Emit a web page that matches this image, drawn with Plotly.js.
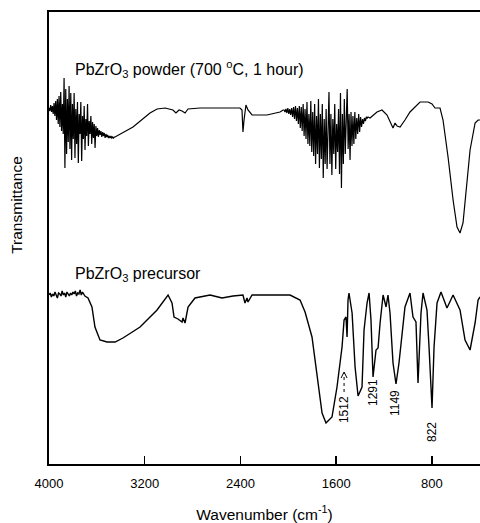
<!DOCTYPE html>
<html>
<head>
<meta charset="utf-8">
<script src="https://cdn.plot.ly/plotly-3.0.1.min.js"></script>
<style>html,body{margin:0;padding:0;background:#fff;}#chart{width:480px;height:523px;}</style>
</head>
<body>
<div id="chart"></div>
<script>
// Wavenumber (cm-1) and transmittance (arbitrary units)
const powderWavenumber = [
4000,3993,3986,3979,3972,3965,3958,3951,3944,3937,3930,3923,3916,3909,3902,3895,3888,3881,3874,3867,
3860,3853,3846,3839,3832,3825,3818,3811,3804,3797,3790,3783,3776,3769,3762,3755,3748,3741,3734,3727,
3720,3713,3706,3699,3692,3685,3678,3671,3664,3657,3650,3643,3636,3629,3622,3615,3608,3601,3594,3587,
3580,3573,3566,3559,3552,3545,3538,3531,3524,3517,3510,3503,3496,3489,3482,3475,3468,3461,3454,3448,
3298,3156,3097,3030,2964,2939,2913,2888,2863,2838,2738,2571,2404,2387,2379,2370,2354,2337,2303,2178,
2069,2044,
2036,2028,2020,2012,2004,1996,1988,1980,1972,1964,1956,1948,1940,1932,1924,1916,1908,1900,1892,1884,
1876,1868,1860,1852,1844,1836,1828,1820,1812,1804,1796,1788,1780,1772,1764,1756,1748,1740,1732,1724,
1716,1708,1700,1692,1684,1676,1668,1660,1652,1644,1636,1628,1620,1612,1604,1596,1588,1580,1572,1564,
1556,1548,1540,1532,1524,1516,1508,1500,1492,1484,1476,1468,1460,1452,1444,1436,1428,1420,1412,1404,
1396,1388,1380,1372,1364,1356,1348,1340,1334,
1317,1259,1217,1175,1125,1108,1091,1066,1025,983,899,832,799,774,732,707,665,623,590,565,
540,506,481,439,414,398];
const powderTransmittance = [
356,353,359,352,358,350,361,348,363,344,365,340,368,337,372,333,360,330,386,296,
375,310,365,322,378,315,371,304,360,325,371,306,355,320,362,301,350,330,362,303,
348,325,358,314,345,328,360,318,343,330,348,320,342,326,340,316,338,328,336,327,
334,329,333,327,332,328,331,326,330,327,329,326,328,326,328,326,327,326,327,327,
337,351,355,356,354,351,354,353,351,355,356,356,356,354,332,344,359,354,349,349,
352,354,
354,352,355,351,356,350,355,349,356,347,357,345,358,343,356,340,358,336,357,333,
360,328,355,325,362,320,350,318,363,312,352,308,360,300,348,310,365,296,350,305,
360,286,345,300,355,295,340,372,300,350,289,345,310,360,295,340,312,355,290,371,
276,350,300,365,310,355,375,315,350,304,352,318,348,320,352,325,346,330,350,332,
347,337,345,340,346,343,347,346,347,
346,352,354,349,336,341,338,337,344,352,362,362,360,356,356,344,307,264,237,231,
241,281,314,341,344,344];

const precursorWavenumber = [
4000,3990,3980,3970,3960,3950,3940,3930,3920,3910,3900,3890,3880,3870,3860,3850,3840,3830,3820,3810,
3800,3790,3780,3770,3760,3750,3740,3730,3720,3710,3700,
3674,3641,3616,3574,3515,3448,3382,3239,3097,3005,2972,2955,2922,2888,2880,2863,2838,2780,2654,
2554,2462,2379,2362,2345,2337,2303,2002,1986,1902,1860,1802,1760,1718,1685,1635,1593,1551,1534,1518,
1509,1501,1493,1467,1442,1417,1384,1367,1342,1325,1309,1292,1267,1250,1233,1208,1183,1167,1150,1125,
1100,1075,1025,983,958,933,916,891,874,841,824,799,782,757,724,674,623,565,523,481,
439,414,398];
const precursorTransmittance = [
169,171,167,170,168,172,169,166,171,170,168,173,169,171,167,172,170,168,171,169,
172,170,173,168,171,170,174,169,172,170,168,
166,157,137,124,122,122,126,137,154,169,161,147,145,142,146,141,157,166,169,
166,168,169,161,166,162,169,169,169,164,152,127,87,51,41,47,77,117,144,147,
127,164,171,151,97,68,77,134,161,171,144,87,114,116,141,169,157,169,151,101,
80,101,157,171,147,142,81,151,171,154,117,56,117,161,172,156,169,154,124,114,
141,164,167];

const tickValues = [4000, 3200, 2400, 1600, 800];
const tickLabels = ["4000", "3200", "2400", "1600", "800"];

const FONT = "Liberation Sans, Arial, sans-serif";

const traces = [
  {x: powderWavenumber, y: powderTransmittance, type: "scatter", mode: "lines",
   line: {color: "#000", width: 1.2}, hoverinfo: "skip"},
  {x: precursorWavenumber, y: precursorTransmittance, type: "scatter", mode: "lines",
   line: {color: "#000", width: 1.4}, hoverinfo: "skip"}
];

const layout = {
  width: 480, height: 523,
  margin: {l: 49, r: 0, t: 12, b: 59},
  paper_bgcolor: "#fff", plot_bgcolor: "#fff",
  showlegend: false,
  font: {family: FONT, color: "#000"},
  xaxis: {
    range: [4000, 398],
    tickmode: "array", tickvals: tickValues, ticktext: tickLabels,
    ticks: "inside", ticklen: 8, tickwidth: 1.5, tickcolor: "#000",
    showline: true, linewidth: 2, linecolor: "#000", mirror: true,
    showgrid: false, zeroline: false,
    tickfont: {family: FONT, size: 13, color: "#000"},
    ticklabelstandoff: 6,
    title: {text: "Wavenumber (cm<sup>-1</sup>)", font: {family: FONT, size: 15.5, color: "#000"}, standoff: 20}
  },
  yaxis: {
    range: [0, 452],
    showticklabels: false, ticks: "",
    showline: true, linewidth: 2, linecolor: "#000",
    showgrid: false, zeroline: false
  },
  annotations: [
    {xref: "paper", yref: "paper", x: -0.077, y: 0.573, text: "Transmittance", textangle: -90,
     showarrow: false, font: {family: FONT, size: 15.5, color: "#000"}, xanchor: "center", yanchor: "middle"},
    {xref: "x", yref: "y", x: 3799, y: 395, xanchor: "left", yanchor: "middle", showarrow: false,
     text: "PbZrO<sub>3</sub> powder (700 <sup>o</sup>C, 1 hour)", font: {family: FONT, size: 16, color: "#000"}},
    {xref: "x", yref: "y", x: 3799, y: 190, xanchor: "left", yanchor: "middle", showarrow: false,
     text: "PbZrO<sub>3</sub> precursor", font: {family: FONT, size: 16, color: "#000"}},
    {xref: "x", yref: "y", x: 1534, y: 54, text: "1512", textangle: -90, showarrow: false,
     font: {family: FONT, size: 12, color: "#000"}},
    {xref: "x", yref: "y", x: 1292, y: 71, text: "1291", textangle: -90, showarrow: false,
     font: {family: FONT, size: 12, color: "#000"}},
    {xref: "x", yref: "y", x: 1108, y: 61, text: "1149", textangle: -90, showarrow: false,
     font: {family: FONT, size: 12, color: "#000"}},
    {xref: "x", yref: "y", x: 799, y: 32, text: "822", textangle: -90, showarrow: false,
     font: {family: FONT, size: 12, color: "#000"}}
  ],
  shapes: [
    {type: "line", xref: "x", yref: "y", x0: 1534, x1: 1534, y0: 72, y1: 91,
     line: {color: "#000", width: 1, dash: "dot"}},
    {type: "path", xref: "x", yref: "y", path: "M 1559,86 L 1534,92 L 1509,86",
     line: {color: "#000", width: 1}}
  ]
};

Plotly.newPlot("chart", traces, layout, {staticPlot: true, displayModeBar: false});
</script>
</body>
</html>
